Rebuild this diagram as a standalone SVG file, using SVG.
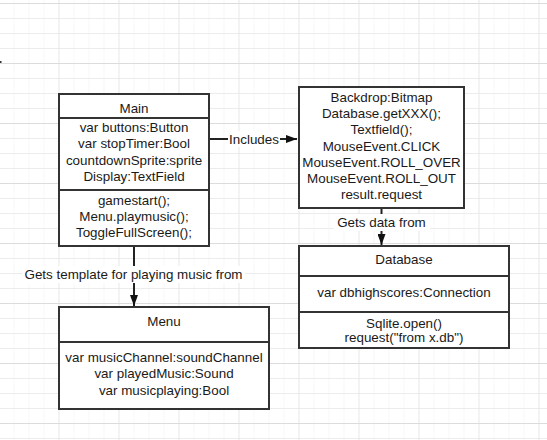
<svg xmlns="http://www.w3.org/2000/svg" width="547" height="440" viewBox="0 0 547 440">
  <defs>
    <pattern id="minor" x="-0.5" y="3" width="15" height="15" patternUnits="userSpaceOnUse">
      <path d="M15 0V15M0 0.5H15" fill="none" stroke="#ececec" stroke-width="1"/>
    </pattern>
    <pattern id="major" x="-0.5" y="3" width="60" height="60" patternUnits="userSpaceOnUse">
      <path d="M60 0V60M0 0.5H60" fill="none" stroke="#dcdcdc" stroke-width="1"/>
    </pattern>
    <marker id="arrow" viewBox="0 0 11 8" refX="11" refY="4" markerWidth="11" markerHeight="8" markerUnits="userSpaceOnUse" orient="auto">
      <path d="M0 0L11 4L0 8Z" fill="#111"/>
    </marker>
  </defs>
  <style>
    text { font-family: "Liberation Sans", Arial, sans-serif; font-size: 13.4px; fill: #1a1a1a; text-anchor: middle; }
    .box { fill: #fff; stroke: #333; stroke-width: 2; }
    .div { stroke: #333; stroke-width: 2; fill: none; }
    .conn { stroke: #222; stroke-width: 2; fill: none; }
    .lbg { fill: #fff; }
  </style>
  <rect width="547" height="440" fill="#fff"/>
  <rect width="547" height="440" fill="url(#minor)"/>
  <rect width="547" height="440" fill="url(#major)"/>
  <rect x="0" y="61" width="1.5" height="2" fill="#333"/>

  <g id="connectors">
    <path class="conn" d="M209 139H297" marker-end="url(#arrow)"/>
    <rect class="lbg" x="228" y="131" width="52" height="16"/>
    <text x="254" y="143.5">Includes</text>

    <path class="conn" d="M381.5 208V245" marker-end="url(#arrow)"/>
    <rect class="lbg" x="334" y="214" width="96" height="17"/>
    <text x="381.5" y="226.7">Gets data from</text>

    <path class="conn" d="M134 246V306" marker-end="url(#arrow)"/>
    <rect class="lbg" x="22" y="266" width="223" height="17"/>
    <text x="133.5" y="278.7">Gets template for playing music from</text>
  </g>

  <g id="main">
    <rect class="box" x="59" y="94" width="150" height="152"/>
    <path class="div" d="M59 118H209M59 190H209"/>
    <text x="134" y="112.5">Main</text>
    <text x="134" y="132">var buttons:Button</text>
    <text x="134" y="148.3">var stopTimer:Bool</text>
    <text x="134" y="164.6">countdownSprite:sprite</text>
    <text x="134" y="181">Display:TextField</text>
    <text x="134" y="205">gamestart();</text>
    <text x="134" y="221">Menu.playmusic();</text>
    <text x="134" y="237">ToggleFullScreen();</text>
  </g>

  <g id="backdrop">
    <rect class="box" x="299" y="87" width="165" height="121"/>
    <text x="381.5" y="102">Backdrop:Bitmap</text>
    <text x="381.5" y="118.2">Database.getXXX();</text>
    <text x="381.5" y="134.4">Textfield();</text>
    <text x="381.5" y="150.6">MouseEvent.CLICK</text>
    <text x="381.5" y="166.8">MouseEvent.ROLL_OVER</text>
    <text x="381.5" y="183">MouseEvent.ROLL_OUT</text>
    <text x="381.5" y="199.2">result.request</text>
  </g>

  <g id="database">
    <rect class="box" x="299" y="246" width="210" height="102"/>
    <path class="div" d="M299 276H509M299 312H509"/>
    <text x="404" y="264.3">Database</text>
    <text x="404" y="297">var dbhighscores:Connection</text>
    <text x="404" y="327.5">Sqlite.open()</text>
    <text x="404" y="342">request("from x.db")</text>
  </g>

  <g id="menu">
    <rect class="box" x="59" y="307" width="210" height="102"/>
    <path class="div" d="M59 342H269"/>
    <text x="164" y="325.7">Menu</text>
    <text x="164" y="362">var musicChannel:soundChannel</text>
    <text x="164" y="378.3">var playedMusic:Sound</text>
    <text x="164" y="394.6">var musicplaying:Bool</text>
  </g>
</svg>
